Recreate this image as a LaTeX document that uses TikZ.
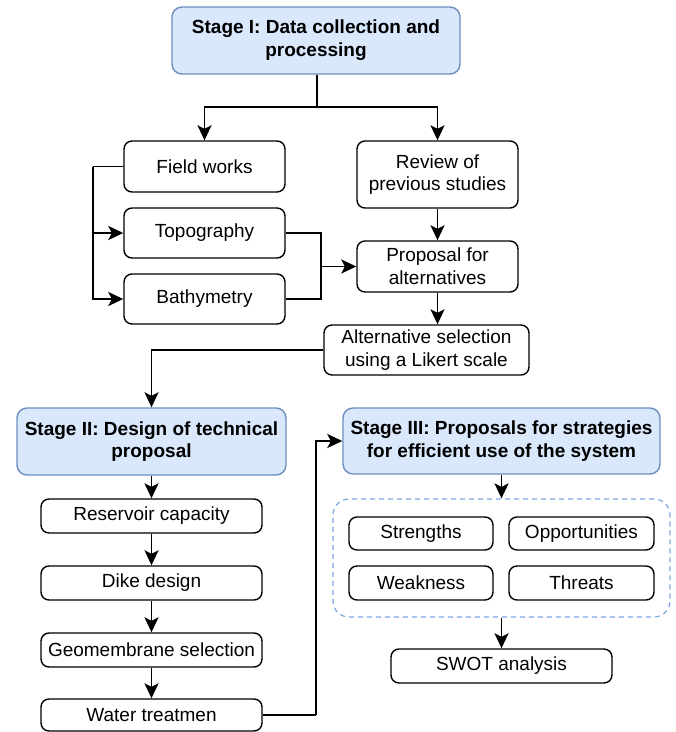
\documentclass[tikz,border=0pt]{standalone}
\usepackage{fontspec}
\setmainfont{Liberation Sans}
\usetikzlibrary{arrows.meta}
\definecolor{stagefill}{HTML}{DAE8FC}
\definecolor{stageline}{HTML}{6C8EBF}
\definecolor{groupline}{HTML}{7EA6E0}
\begin{document}
\begin{tikzpicture}[x=1pt,y=-1pt,
  base/.style={draw=black,line width=1.4pt,rounded corners=8pt,inner sep=0pt,align=center,
    font=\fontsize{19}{22.8}\selectfont},
  box/.style={base,fill=white},
  stagebox/.style={base,draw=stageline,fill=stagefill,rounded corners=10pt,
    font=\fontsize{19}{22.8}\selectfont\bfseries},
  groupbox/.style={draw=groupline,line width=1.2pt,dash pattern=on 5pt off 4pt,rounded corners=16pt},
  conn/.style={line width=1.7pt,draw=black},
  arr/.style={conn,-{Stealth[length=15pt,width=14pt,inset=3.5pt]}}
]
\useasboundingbox (0,0) rectangle (676,732);

% Stage I
\node[stagebox,minimum width=288pt,minimum height=67pt] (s1) at (316,40.5) {Stage I: Data collection and\\processing};
\node[box,minimum width=161pt,minimum height=51pt] (fw) at (204.5,166.5) {Field works};
\node[box,minimum width=161pt,minimum height=67pt] (rev) at (437.5,174.5) {Review of\\previous studies};
\node[box,minimum width=161pt,minimum height=50pt] (topo) at (204.5,233) {Topography};
\node[box,minimum width=161pt,minimum height=51pt] (prop) at (437.5,266.5) {Proposal for\\alternatives};
\node[box,minimum width=161pt,minimum height=50pt] (bath) at (204.5,299) {Bathymetry};
\node[box,minimum width=205pt,minimum height=50pt] (alt) at (426.5,350) {Alternative selection\\using a Likert scale};

% Stage II
\node[stagebox,minimum width=269pt,minimum height=67pt] (s2) at (151.5,441.5) {Stage II: Design of technical\\proposal};
\node[box,minimum width=221pt,minimum height=34pt] (res) at (151.5,516) {Reservoir capacity};
\node[box,minimum width=221pt,minimum height=34pt] (dike) at (151.5,583) {Dike design};
\node[box,minimum width=221pt,minimum height=34pt] (geo) at (151.5,650) {Geomembrane selection};
\node[box,minimum width=221pt,minimum height=32pt] (wat) at (151.5,715) {Water treatmen};

% Stage III
\node[stagebox,minimum width=317pt,minimum height=66pt] (s3) at (501.5,441) {Stage III: Proposals for strategies\\for efficient use of the system};
\node[groupbox,minimum width=337pt,minimum height=118pt] (grp) at (501.5,558) {};
\node[box,minimum width=144pt,minimum height=33pt] (str) at (421,533.5) {Strengths};
\node[box,minimum width=145pt,minimum height=33pt] (opp) at (581.5,533.5) {Opportunities};
\node[box,minimum width=144pt,minimum height=34pt] (weak) at (421,583) {Weakness};
\node[box,minimum width=145pt,minimum height=34pt] (thr) at (581.5,583) {Threats};
\node[box,minimum width=221pt,minimum height=34pt] (swot) at (501.5,666) {SWOT analysis};

% connectors Stage I
\coordinate (split) at (317,107);
\draw[conn] (s1.south -| split) -- (split);
\draw[arr] (split) -| (fw.north);
\draw[arr] (split) -| (rev.north);
\coordinate (bus) at (93,166.5);
\draw[conn] (fw.west) -- (bus);
\draw[arr] (bus) |- (topo.west);
\draw[arr] (bus) |- (bath.west);
\coordinate (join) at (321,266.5);
\draw[conn] (topo.east) -| (join);
\draw[conn] (bath.east) -| (join);
\draw[arr] (join) -- (prop.west);
\draw[arr] (rev.south) -- (prop.north);
\draw[arr] (prop.south) -- (prop.south |- alt.north);
\draw[arr] (alt.west) -| (s2.north);

% Stage II
\draw[arr] (s2.south) -- (res.north);
\draw[arr] (res.south) -- (dike.north);
\draw[arr] (dike.south) -- (geo.north);
\draw[arr] (geo.south) -- (wat.north);
\coordinate (up) at (316,715);
\draw[conn] (wat.east) -- (up);
\draw[arr] (up) |- (s3.west);

% Stage III
\draw[arr] (s3.south) -- (grp.north);
\draw[arr] (grp.south) -- (swot.north);
\end{tikzpicture}
\end{document}
